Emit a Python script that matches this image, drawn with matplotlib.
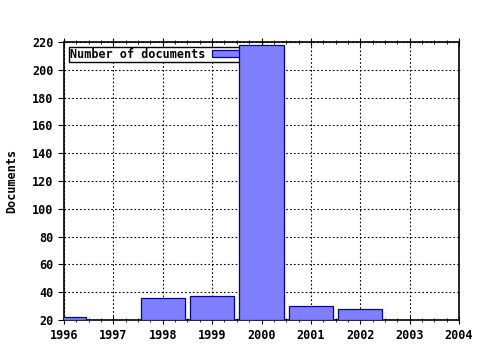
import matplotlib
matplotlib.use("Agg")
import matplotlib.pyplot as plt
from matplotlib.ticker import MultipleLocator

years = [1996, 1998, 1999, 2000, 2001, 2002]
docs = [22, 36, 37, 218, 30, 28]
xticks = [1996, 1997, 1998, 1999, 2000, 2001, 2002, 2003, 2004]
yticks = [20, 40, 60, 80, 100, 120, 140, 160, 180, 200, 220]

plt.rcParams['font.family'] = 'DejaVu Sans Mono'
plt.rcParams['font.weight'] = 'bold'
plt.rcParams['font.size'] = 8.5

fig = plt.figure(figsize=(4.8, 3.5), dpi=100)
ax = fig.add_axes([64/480, 1 - 320/350, (459 - 64)/480, (320 - 42)/350])

heights = [d - 20 for d in docs]
ax.bar(years, heights, bottom=20, width=0.9, color='#8080ff',
       edgecolor='#0000a0', linewidth=0.9, label='Number of documents', zorder=3)

ax.set_xlim(1996, 2004)
ax.set_ylim(20, 220)
ax.set_xticks(xticks)
ax.set_yticks(yticks)
ax.xaxis.set_minor_locator(MultipleLocator(0.25))
ax.grid(True, color='black', linestyle=(0, (1.5, 2)), linewidth=0.8, zorder=0)
ax.tick_params(axis='x', which='major', direction='inout', length=6, top=True)
ax.tick_params(axis='x', which='minor', direction='inout', length=3, top=True)
ax.tick_params(axis='y', which='major', direction='out', length=4)
for s in ax.spines.values():
    s.set_linewidth(1.2)
ax.set_ylabel('Documents', fontweight='bold', labelpad=10)

leg = ax.legend(loc='upper left', markerfirst=False, fancybox=False,
                framealpha=1, edgecolor='black', borderpad=0.1,
                handlelength=2.5, handleheight=0.6, borderaxespad=0.4,
                handletextpad=0.6)
leg.get_frame().set_linewidth(1)
leg.set_zorder(2)

fig.savefig('out.png', dpi=100)
